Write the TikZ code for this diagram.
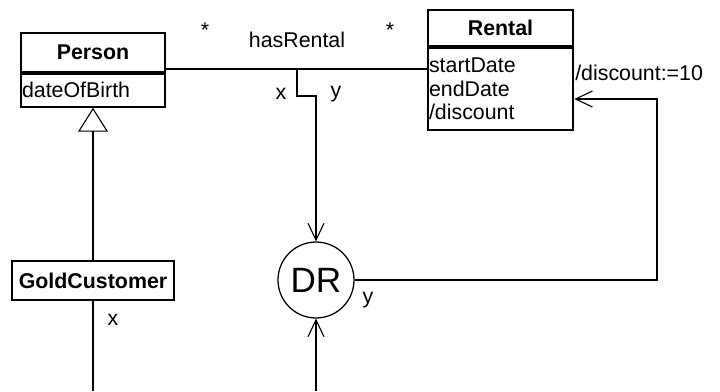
\documentclass[tikz,border=0pt]{standalone}
\usepackage{fontspec}
\setmainfont{Liberation Sans}
\usetikzlibrary{positioning,arrows.meta}

\begin{document}
\begin{tikzpicture}[
  font=\fontsize{15.2}{17}\selectfont,
  classhead/.style={rectangle, draw, line width=1.3pt, inner sep=0pt, font=\fontsize{15.2}{17}\selectfont\bfseries},
  classattr/.style={rectangle, draw, line width=1.3pt, inner xsep=1pt, inner ysep=0pt, align=left, anchor=north},
  rulebox/.style={circle, draw, line width=0.9pt, minimum size=1.9cm, inner sep=0pt, font=\fontsize{25}{28}\selectfont},
  link/.style={line width=0.8pt},
  arrow/.style={link, -{Straight Barb[length=0.42cm, width=0.4cm]}},
  isa/.style={link, -{Triangle[open, length=0.6cm, width=0.75cm, line width=0.8pt]}},
  tag/.style={inner sep=0pt}
]
  \useasboundingbox (0,0) rectangle (18,-9.775);

  % Classes
  \node[classhead, minimum width=3.6cm, minimum height=0.975cm] (person) at (2.325,-1.3125) {Person};
  \node[classattr, minimum width=3.6cm, minimum height=0.825cm, text width=3.55cm, below=0pt of person] (personattr) {dateOfBirth};
  \node[classhead, minimum width=3.625cm, minimum height=0.9cm] (rental) at (12.5125,-0.7) {Rental};
  \node[classattr, minimum width=3.625cm, minimum height=2.05cm, text width=3.575cm, below=0pt of rental] (rentalattr)
    {startDate\\endDate\\/discount};
  \node[classhead, minimum width=4.05cm, minimum height=0.975cm] (gold) at (2.325,-7.0125) {GoldCustomer};

  % Derivation rule
  \node[rulebox] (dr) at (7.9,-7.0) {DR};

  % Helper points
  \coordinate (assoc) at (7.425,-1.725);
  \coordinate (bend) at (7.9,-2.4);
  \coordinate (back) at (16.425,-2.475);
  \coordinate (goldend) at (2.325,-9.775);
  \coordinate (drin) at (7.9,-9.775);

  % Association and its labels
  \draw[link] (person.east |- assoc) -- (rentalattr.west |- assoc);
  \node[tag] (multleft) at (5.125,-0.75) {*};
  \node[tag] (assocname) at (7.425,-1.0) {hasRental};
  \node[tag] (multright) at (9.75,-0.75) {*};

  % Arrows
  \draw[arrow] (assoc) |- (bend) -- (dr.north);
  \draw[arrow] (drin) -- (dr.south);
  \draw[arrow] (dr.east) -| (back) -- (rentalattr.east |- back);
  \draw[isa] (gold.north) -- (personattr.south);
  \draw[link] (gold.south) -- (goldend);

  % Variable labels
  \node[tag] (xone) at (7.025,-2.35) {x};
  \node[tag] (yone) at (8.4,-2.35) {y};
  \node[tag] (ytwo) at (9.2,-7.5) {y};
  \node[tag] (xtwo) at (2.825,-8.0) {x};
  \node[tag, anchor=west] (assign) at (14.375,-1.825) {/discount:=10};
\end{tikzpicture}
\end{document}
